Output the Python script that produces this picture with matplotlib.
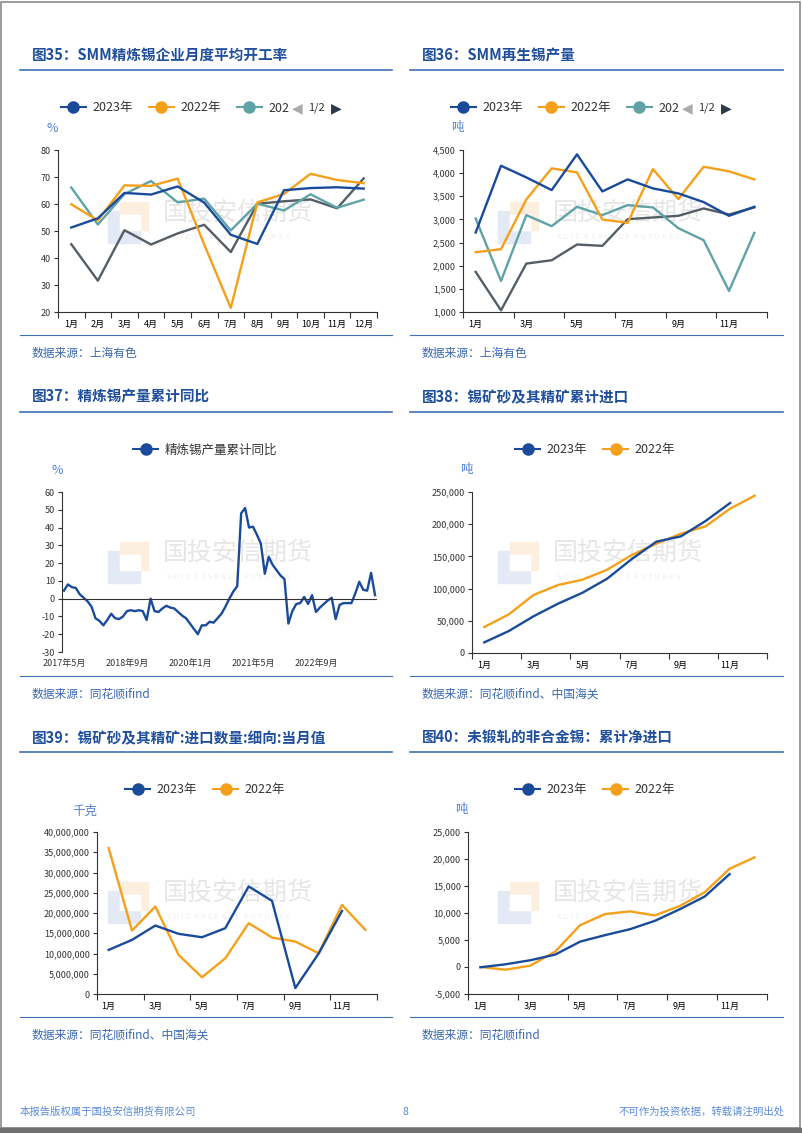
import numpy as np
import matplotlib
matplotlib.use('Agg')
import matplotlib.pyplot as plt
from matplotlib.lines import Line2D
from matplotlib.patches import Rectangle
from matplotlib.ticker import FuncFormatter

plt.rcParams['font.family'] = ['Noto Sans CJK SC', 'DejaVu Sans']
plt.rcParams['axes.unicode_minus'] = False

W, H = 802, 1133

# ---- data ----
months12 = ['1月', '2月', '3月', '4月', '5月', '6月', '7月', '8月', '9月', '10月', '11月', '12月']

# fig35 SMM refined tin operating rate (%)
rate_2023 = [51.3, 54.7, 64.1, 63.5, 66.5, 60.5, 48.6, 45.2, 65.1, 65.9, 66.2, 65.7]
rate_2022 = [59.9, 53.9, 66.9, 66.7, 69.4, 45.0, 21.5, 60.6, 63.7, 71.2, 68.9, 67.7]
rate_2021 = [66.1, 52.4, 63.7, 68.5, 60.6, 62.0, 50.2, 60.1, 57.6, 63.6, 58.6, 61.6]
rate_2020 = [45.1, 31.6, 50.3, 45.0, 49.1, 52.3, 42.2, 60.1, 61.0, 61.7, 58.4, 69.5]

# fig36 SMM secondary tin output (t)
sec_2023 = [2717, 4160, 3908, 3634, 4406, 3605, 3865, 3670, 3562, 3374, 3078, 3273]
sec_2022 = [2292, 2357, 3432, 4103, 4016, 2999, 2927, 4088, 3439, 4139, 4038, 3865]
sec_2021 = [3020, 1671, 3093, 2854, 3273, 3093, 3309, 3259, 2811, 2551, 1455, 2710]
sec_2020 = [1866, 1036, 2046, 2118, 2458, 2429, 3006, 3042, 3078, 3237, 3107, 3259]

# fig37 refined tin output cumulative yoy (%), 2017-05 .. 2023-12
yoy = [4.5, 8, 6.5, 6, 2.5, 0.5, -1.5, -4.5, -11, -12.5,
       -15, -12, -8.5, -11, -11.5, -10, -7, -6.5, -7, -6.5,
       -7, -12, 0, -7, -7.5, -5.5, -4, -5, -5.5, -7.5,
       -9.5, -11, -14, -17, -20, -15, -15, -13, -13.5, -11,
       -8.5, -4.5, 0, 4, 7, 48, 51, 40, 40.5, 36,
       31, 14, 23.5, 19, 16, 13, 11, -14, -7, -3,
       -2.5, 1, -3, 2, -7.5, -5, -3, -1, 0.5, -11.5,
       -3.5, -2.5, -2.5, -2.5, 3, 9.5, 5, 4.5, 14.5, 2]
yoy_ticks = [0, 16, 32, 48, 64]
yoy_ticklabels = ['2017年5月', '2018年9月', '2020年1月', '2021年5月', '2022年9月']

# fig38 tin ore cumulative imports (t)
ore_cum_2023 = [16563, 34161, 56936, 76604, 93685, 115424, 145963, 172878, 181159, 204969, 232919]
ore_cum_2022 = [40373, 60041, 90062, 105590, 113872, 129400, 152174, 169772, 185300, 196687, 224120, 244306]

# fig39 tin ore monthly imports (kg)
ore_m_2023 = [10.89e6, 13.36e6, 16.9e6, 14.85e6, 14.02e6, 16.25e6, 26.56e6, 23.0e6, 1.48e6, 10.0e6, 20.5e6]
ore_m_2022 = [36.04e6, 15.67e6, 21.6e6, 9.65e6, 4.12e6, 8.82e6, 17.48e6, 13.94e6, 12.95e6, 10.06e6, 22.0e6, 15.83e6]

# fig40 unwrought tin cumulative net imports (t)
net_2023 = [-50, 500, 1250, 2300, 4700, 5900, 7000, 8550, 10700, 13050, 17200]
net_2022 = [0, -500, 250, 2850, 7750, 9800, 10300, 9550, 11300, 13850, 18200, 20300]

BLUE = '#1a4b9b'
ORANGE = '#f5a01a'
TEAL = '#5fa3a7'
GRAY = '#555d66'
TITLE_C = '#1f4e9c'
UNIT_C = '#4f7fd6'
LINE_C = '#3f6fb5'

fig = plt.figure(figsize=(W / 100, H / 100), dpi=100)


def fx(x):
    return x / W


def fy(y):
    return 1 - y / H


def make_ax(left, top, right, bottom):
    ax = fig.add_axes([fx(left), fy(bottom), (right - left) / W, (bottom - top) / H])
    for s in ['top', 'right']:
        ax.spines[s].set_visible(False)
    for s in ['left', 'bottom']:
        ax.spines[s].set_color('#333333')
        ax.spines[s].set_linewidth(0.8)
    ax.tick_params(axis='y', labelsize=6.5, length=3, width=0.8, colors='#333333', pad=2)
    ax.tick_params(axis='x', labelsize=6.5, length=4, width=0.8, colors='#333333', pad=2)
    ax.patch.set_alpha(0)
    return ax


def month_axis(ax, n_slots, step):
    ax.set_xlim(-0.5, n_slots - 0.5)
    ax.set_xticks(np.arange(-0.5, n_slots, step))
    ax.set_xticklabels([])
    ax.set_xticks(np.arange(0, n_slots, step), minor=True)
    ax.set_xticklabels([months12[i] for i in range(0, n_slots, step)], minor=True)
    ax.tick_params(axis='x', which='minor', length=0, pad=6, labelsize=6.5)


def watermark(ox, oy):
    # faint company logo + name behind the chart
    fig.patches.append(Rectangle((fx(ox + 88), fy(oy + 153)), 32 / W, 32 / H,
                                 transform=fig.transFigure, color='#e4eaf5', zorder=-2))
    fig.patches.append(Rectangle((fx(ox + 100), fy(oy + 140)), 28 / W, 28 / H,
                                 transform=fig.transFigure, color='#fcefdf', zorder=-2))
    fig.patches.append(Rectangle((fx(ox + 100), fy(oy + 140)), 20 / W, 15 / H,
                                 transform=fig.transFigure, color='white', zorder=-1.5))
    fig.text(fx(ox + 143), fy(oy + 123), '国投安信期货', fontsize=18, color='#e6e6e6',
             va='center', ha='left', zorder=-1)
    fig.text(fx(ox + 147), fy(oy + 147), 'S D I C  E S S E N C E  F U T U R E S', fontsize=5,
             color='#ededed', va='center', ha='left', zorder=-1, family='DejaVu Sans')


def legend(cx, cy, items, ncol):
    handles = [Line2D([], [], color=c, lw=1.5, marker='o', markersize=8) for c, _ in items]
    labels = [l for _, l in items]
    fig.legend(handles, labels, loc='center', bbox_to_anchor=(fx(cx), fy(cy)), ncol=ncol,
               frameon=False, fontsize=9, handlelength=2.0, columnspacing=1.3,
               handletextpad=0.5, labelcolor='#333333')


def pager(x0, y):
    fig.text(fx(x0), fy(y), '◀', fontsize=10, color='#aaaaaa', va='center', family='DejaVu Sans')
    fig.text(fx(x0 + 16), fy(y), '1/2', fontsize=8, color='#333333', va='center')
    fig.text(fx(x0 + 39), fy(y), '▶', fontsize=10, color='#2a3a4a', va='center', family='DejaVu Sans')


def panel_frame(x0, x1, title, y_title, y_under, y_sep, source):
    fig.text(fx(x0 + 12), fy(y_title), title, fontsize=10.5, fontweight='bold', color=TITLE_C,
             va='center', ha='left')
    fig.lines.append(Line2D([fx(x0), fx(x1)], [fy(y_under), fy(y_under)], transform=fig.transFigure,
                            color=LINE_C, lw=1.2))
    fig.lines.append(Line2D([fx(x0), fx(x1)], [fy(y_sep), fy(y_sep)], transform=fig.transFigure,
                            color=LINE_C, lw=0.8))
    fig.text(fx(x0 + 12), fy(y_sep + 18), source, fontsize=8.5, style='italic', color='#3a68b0',
             va='center', ha='left')


thousands = FuncFormatter(lambda v, p: '{:,.0f}'.format(v))

# ---- page frame ----
fig.patches.append(Rectangle((0.001, 0.004), 0.997, 0.994, transform=fig.transFigure,
                             fill=False, edgecolor='#8a8a8a', lw=1.2))
fig.patches.append(Rectangle((0, 0), 1, 5 / H, transform=fig.transFigure, color='#6f6f6f'))

panel_frame(20, 392, '图35：SMM精炼锡企业月度平均开工率', 55, 70, 335, '数据来源：上海有色')
panel_frame(410, 783, '图36：SMM再生锡产量', 55, 70, 335, '数据来源：上海有色')
panel_frame(20, 392, '图37：精炼锡产量累计同比', 397, 412, 676, '数据来源：同花顺ifind')
panel_frame(410, 783, '图38：锡矿砂及其精矿累计进口', 397, 412, 676, '数据来源：同花顺ifind、中国海关')
panel_frame(20, 392, '图39：锡矿砂及其精矿:进口数量:细向:当月值', 738, 752, 1017, '数据来源：同花顺ifind、中国海关')
panel_frame(410, 783, '图40：未锻轧的非合金锡：累计净进口', 738, 752, 1017, '数据来源：同花顺ifind')

for ox, oy in [(20, 90), (410, 90), (20, 430), (410, 430), (20, 770), (410, 770)]:
    watermark(ox, oy)

x12 = np.arange(12)

# ---- fig35 ----
ax = make_ax(58, 150, 377, 312)
ax.plot(x12, rate_2020, color=GRAY, lw=1.7)
ax.plot(x12, rate_2021, color=TEAL, lw=1.7)
ax.plot(x12, rate_2022, color=ORANGE, lw=1.7)
ax.plot(x12, rate_2023, color=BLUE, lw=1.7)
ax.set_ylim(20, 80)
ax.set_yticks(range(20, 81, 10))
month_axis(ax, 12, 1)
fig.text(fx(52), fy(128), '%', fontsize=9, color=UNIT_C, ha='center', va='center')
legend(175, 108, [(BLUE, '2023年'), (ORANGE, '2022年'), (TEAL, '202')], 3)
pager(292, 108)

# ---- fig36 ----
ax = make_ax(463, 150, 767, 312)
ax.plot(x12, sec_2020, color=GRAY, lw=1.7)
ax.plot(x12, sec_2021, color=TEAL, lw=1.7)
ax.plot(x12, sec_2022, color=ORANGE, lw=1.7)
ax.plot(x12, sec_2023, color=BLUE, lw=1.7)
ax.set_ylim(1000, 4500)
ax.set_yticks(range(1000, 4501, 500))
ax.yaxis.set_major_formatter(thousands)
month_axis(ax, 12, 2)
fig.text(fx(457), fy(128), '吨', fontsize=9, color=UNIT_C, ha='center', va='center')
legend(565, 108, [(BLUE, '2023年'), (ORANGE, '2022年'), (TEAL, '202')], 3)
pager(682, 108)

# ---- fig37 ----
ax = make_ax(62, 492, 377, 652)
xi = np.arange(len(yoy))
ax.plot(xi, yoy, color=BLUE, lw=1.7)
ax.axhline(0, color='#333333', lw=0.8)
ax.spines['bottom'].set_visible(False)
ax.set_ylim(-30, 60)
ax.set_yticks(range(-30, 61, 10))
ax.set_xlim(-0.5, 79.5)
ax.set_xticks(yoy_ticks)
ax.set_xticklabels(yoy_ticklabels)
ax.tick_params(axis='x', length=0, pad=5)
fig.text(fx(57), fy(470), '%', fontsize=9, color=UNIT_C, ha='center', va='center')
legend(205, 450, [(BLUE, '精炼锡产量累计同比')], 1)

# ---- fig38 ----
ax = make_ax(472, 492, 767, 653)
ax.plot(np.arange(len(ore_cum_2022)), ore_cum_2022, color=ORANGE, lw=1.7)
ax.plot(np.arange(len(ore_cum_2023)), ore_cum_2023, color=BLUE, lw=1.7)
ax.set_ylim(0, 250000)
ax.set_yticks(range(0, 250001, 50000))
ax.yaxis.set_major_formatter(thousands)
month_axis(ax, 12, 2)
fig.text(fx(466), fy(470), '吨', fontsize=9, color=UNIT_C, ha='center', va='center')
legend(595, 450, [(BLUE, '2023年'), (ORANGE, '2022年')], 2)

# ---- fig39 ----
ax = make_ax(97, 832, 377, 994)
ax.plot(np.arange(len(ore_m_2022)), ore_m_2022, color=ORANGE, lw=1.7)
ax.plot(np.arange(len(ore_m_2023)), ore_m_2023, color=BLUE, lw=1.7)
ax.set_ylim(0, 40e6)
ax.set_yticks(np.arange(0, 40e6 + 1, 5e6))
ax.yaxis.set_major_formatter(thousands)
month_axis(ax, 12, 2)
fig.text(fx(85), fy(811), '千克', fontsize=9, color=UNIT_C, ha='center', va='center')
legend(205, 790, [(BLUE, '2023年'), (ORANGE, '2022年')], 2)

# ---- fig40 ----
ax = make_ax(468, 832, 767, 994)
ax.plot(np.arange(len(net_2022)), net_2022, color=ORANGE, lw=1.7)
ax.plot(np.arange(len(net_2023)), net_2023, color=BLUE, lw=1.7)
ax.set_ylim(-5000, 25000)
ax.set_yticks(range(-5000, 25001, 5000))
ax.yaxis.set_major_formatter(thousands)
month_axis(ax, 12, 2)
fig.text(fx(461), fy(810), '吨', fontsize=9, color=UNIT_C, ha='center', va='center')
legend(595, 790, [(BLUE, '2023年'), (ORANGE, '2022年')], 2)

# ---- footer ----
fig.text(fx(20), fy(1112), '本报告版权属于国投安信期货有限公司', fontsize=7.5, color='#5a8bd8', va='center')
fig.text(fx(405), fy(1112), '8', fontsize=7.5, color='#5a8bd8', va='center', ha='center')
fig.text(fx(785), fy(1112), '不可作为投资依据，转载请注明出处', fontsize=7.5, color='#5a8bd8',
         va='center', ha='right')

fig.savefig('out.png', dpi=100)
